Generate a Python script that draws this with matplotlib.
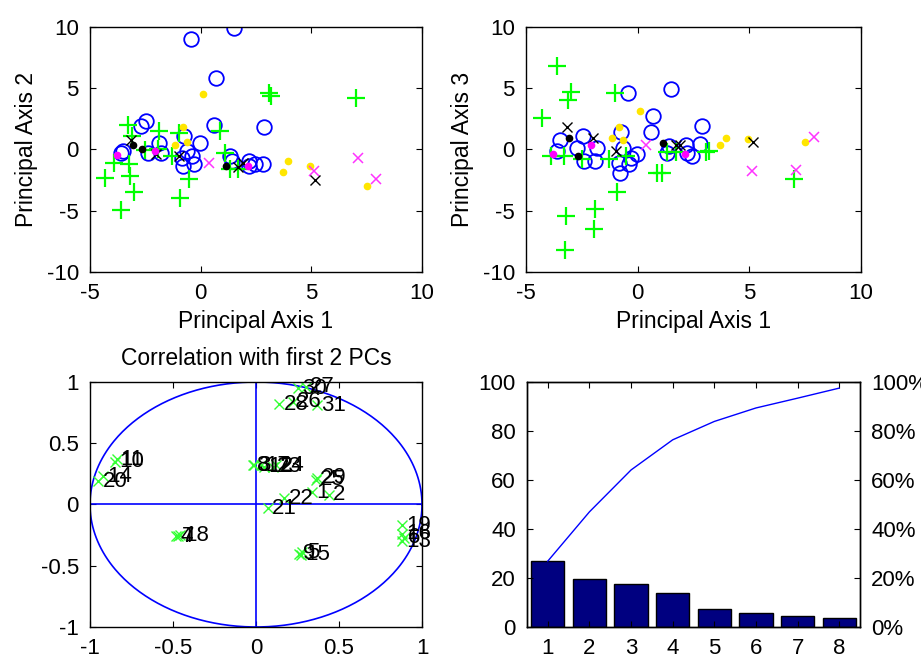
import matplotlib
matplotlib.use('Agg')
import matplotlib.pyplot as plt
import numpy as np
from matplotlib.ticker import FuncFormatter

plt.rcParams['font.family'] = ['Liberation Sans', 'DejaVu Sans']
plt.rcParams['axes.unicode_minus'] = False
plt.rcParams['font.size'] = 16

# ---------------- data: scores on principal axes ----------------
blue_pc1 = [-0.45, 1.5, 0.68, 0.6, 2.86, -2.45, -2.7, -3.5, -3.6, -1.9, -2.4, -1.8,
            -0.75, -0.03, -0.64, -0.4, -0.8, -0.3, -0.85, 1.33, 1.4, 2.17, 2.45, 2.8, 2.2]
blue_pc2 = [9.0, 9.9, 5.8, 2.0, 1.8, 2.3, 1.95, -0.1, -0.3, 0.55, -0.25, -0.3,
            1.1, 0.55, -0.1, -0.55, -1.35, -1.15, -0.7, -0.55, -0.9, -0.95, -1.2, -1.15, -1.35]
blue_pc3 = [4.65, 4.95, 2.7, 1.4, 1.9, 1.1, 0.15, 0.8, -0.1, -0.95, -0.95, 0.1,
            1.4, -0.4, 0.1, -1.2, -1.9, -0.7, -1.1, -0.3, 0.3, 0.4, -0.5, 0.45, -0.3]

green_pc1 = [7.0, 3.08, 3.2, -3.6, -4.3, -3.9, -3.3, -3.25, -3.0, -3.1, -3.2, -1.9,
             -1.95, -2.5, -1.0, -0.94, -1.3, -0.53, 0.88, 1.1, 1.33, 1.7]
green_pc2 = [4.2, 4.6, 4.4, -4.95, -2.3, -1.1, 2.0, -1.15, -3.5, 1.1, -2.2, 1.5,
             0.0, -0.05, 1.35, -3.95, -0.55, -2.4, 1.5, -0.27, -1.6, -1.6]
green_pc3 = [-2.4, -0.2, -0.1, 6.8, 2.6, -0.5, -0.5, -8.2, 4.7, 4.0, -5.45, -4.86,
             -6.5, -0.8, 4.65, -3.5, -0.8, -0.5, -1.9, -1.9, -0.2, -0.2]

yellow_pc1 = [0.09, -0.82, -0.64, -1.14, 3.95, 3.7, 4.92, 7.5]
yellow_pc2 = [4.57, 1.8, 0.6, 0.35, -0.95, -1.8, -1.35, -3.0]
yellow_pc3 = [3.14, 1.86, 0.76, 0.95, 0.95, 0.35, 0.82, 0.63]

magx_pc1 = [0.38, 7.1, 7.9, 5.12]
magx_pc2 = [-1.1, -0.73, -2.37, -1.77]
magx_pc3 = [0.33, -1.64, 1.04, -1.78]

blkx_pc1 = [-3.17, -2.0, -0.98, 1.7, 1.9, 5.15]
blkx_pc2 = [0.8, -0.4, -0.55, -1.4, -1.1, -2.5]
blkx_pc3 = [1.86, 0.95, -0.14, 0.33, 0.33, 0.6]

blkdot_pc1 = [-3.06, -2.65, 1.14]
blkdot_pc2 = [0.4, 0.05, -1.36]
blkdot_pc3 = [0.95, -0.5, 0.5]

magdot_pc1 = [-3.77, -2.08, 2.12]
magdot_pc2 = [-0.46, -0.13, -1.36]
magdot_pc3 = [-0.33, 0.38, -0.33]

# ---------------- data: correlations with first 2 PCs ----------------
corr_labels = [str(i) for i in range(1, 32)]
corr_pc1 = [0.34, 0.44, -0.01, -0.48, 0.28, 0.89, -0.47, -0.02, 0.26, -0.85,
            -0.84, 0.05, 0.88, -0.92, 0.27, 0.88, 0.03, -0.46, 0.88, -0.95,
            0.07, 0.17, 0.10, 0.12, 0.36, 0.22, 0.30, 0.14, 0.37, 0.25, 0.37]
corr_pc2 = [0.10, 0.08, 0.32, -0.26, -0.39, -0.27, -0.26, 0.32, -0.40, 0.35,
            0.37, 0.31, -0.30, 0.23, -0.41, -0.24, 0.32, -0.25, -0.17, 0.19,
            -0.03, 0.05, 0.31, 0.32, 0.20, 0.84, 0.96, 0.82, 0.22, 0.95, 0.81]

# ---------------- data: pareto of explained variance ----------------
pc_index = [1, 2, 3, 4, 5, 6, 7, 8]
explained = [26.9, 19.5, 17.5, 13.9, 7.4, 5.7, 4.4, 3.7]
cum_explained = [26.9, 47.0, 64.1, 76.4, 83.9, 89.4, 93.4, 97.5]

# ---------------- figure ----------------
W, H = 921, 655
fig = plt.figure(figsize=(W / 100, H / 100), dpi=100)


def add_ax(l, t, r, b):
    return fig.add_axes([l / W, 1 - b / H, (r - l) / W, (b - t) / H])


def style(ax, right=True, top=True):
    ax.tick_params(direction='in', length=4, width=0.8, top=top, right=right,
                   labelsize=16, pad=8, colors='black')
    for s in ax.spines.values():
        s.set_linewidth(1.0)
        s.set_color('black')


gfmt = FuncFormatter(lambda v, p: ('%g' % v))


def scatter_panel(ax, ys):
    (b, g, y, mx, kx, kd, md) = ys
    ax.plot(blue_pc1, b, 'o', mfc='none', mec=(0, 0, 1), ms=10.5, mew=1.3, ls='none')
    ax.plot(green_pc1, g, '+', color=(0, 1, 0), ms=13, mew=1.6, ls='none')
    ax.plot(yellow_pc1, y, 'o', color=(1, 0.9, 0), ms=4.5, ls='none')
    ax.plot(magx_pc1, mx, 'x', color=(1, 0.2, 1), ms=7.5, mew=1.1, ls='none')
    ax.plot(blkx_pc1, kx, 'x', color='black', ms=7.5, mew=1.0, ls='none')
    ax.plot(blkdot_pc1, kd, 'o', color='black', ms=4.5, ls='none')
    ax.plot(magdot_pc1, md, 'o', color=(1, 0, 1), ms=4.5, ls='none')
    ax.set_xlim(-5, 10)
    ax.set_ylim(-10, 10)
    ax.set_xticks([-5, 0, 5, 10])
    ax.set_yticks([-10, -5, 0, 5, 10])
    ax.xaxis.set_major_formatter(gfmt)
    ax.yaxis.set_major_formatter(gfmt)
    style(ax)


ax1 = add_ax(90, 27, 422, 272)
scatter_panel(ax1, (blue_pc2, green_pc2, yellow_pc2, magx_pc2, blkx_pc2, blkdot_pc2, magdot_pc2))
ax1.set_xlabel('Principal Axis 1', fontsize=16.5, labelpad=4)
ax1.set_ylabel('Principal Axis 2', fontsize=16.5, labelpad=6)

ax2 = add_ax(526, 27, 861, 272)
scatter_panel(ax2, (blue_pc3, green_pc3, yellow_pc3, magx_pc3, blkx_pc3, blkdot_pc3, magdot_pc3))
ax2.set_xlabel('Principal Axis 1', fontsize=16.5, labelpad=4)
ax2.set_ylabel('Principal Axis 3', fontsize=16.5, labelpad=6)

# correlation circle
ax3 = add_ax(90, 382, 422, 627)
t = np.linspace(0, 2 * np.pi, 400)
ax3.plot(np.cos(t), np.sin(t), color=(0, 0, 1), lw=1.2)
ax3.plot([-1, 1], [0, 0], color=(0, 0, 1), lw=1.2)
ax3.plot([0, 0], [-1, 1], color=(0, 0, 1), lw=1.2)
ax3.plot(corr_pc1, corr_pc2, 'x', color=(0.2, 1, 0.2), ms=6.5, mew=1.0, ls='none')
for xv, yv, lab in zip(corr_pc1, corr_pc2, corr_labels):
    ax3.annotate(lab, (xv, yv), xytext=(3, 0), textcoords='offset points',
                 ha='left', va='center', fontsize=16, color='black',
                 annotation_clip=False)
ax3.set_xlim(-1, 1)
ax3.set_ylim(-1, 1)
ax3.set_xticks([-1, -0.5, 0, 0.5, 1])
ax3.set_yticks([-1, -0.5, 0, 0.5, 1])
ax3.xaxis.set_major_formatter(gfmt)
ax3.yaxis.set_major_formatter(gfmt)
style(ax3)
ax3.set_title('Correlation with first 2 PCs', fontsize=16.5, pad=12)

# pareto
ax4 = add_ax(527, 382, 860, 627)
ax4.bar(pc_index, explained, width=0.8, color=(0, 0, 0.5), edgecolor='black', lw=1.0)
ax4.set_xlim(0.5, 8.5)
ax4.set_ylim(0, 100)
ax4.set_xticks(pc_index)
ax4.set_yticks([0, 20, 40, 60, 80, 100])
style(ax4, right=False, top=True)
ax5 = ax4.twinx()
ax5.plot(pc_index, cum_explained, color=(0, 0, 1), lw=1.0)
ax5.set_ylim(0, 100)
ax5.set_yticks([0, 20, 40, 60, 80, 100])
ax5.yaxis.set_major_formatter(FuncFormatter(lambda v, p: '%d%%' % v))
ax5.tick_params(direction='in', length=4, width=0.8, labelsize=16, pad=8)
for s in ax5.spines.values():
    s.set_linewidth(1.0)

fig.savefig('out.png', dpi=100)
